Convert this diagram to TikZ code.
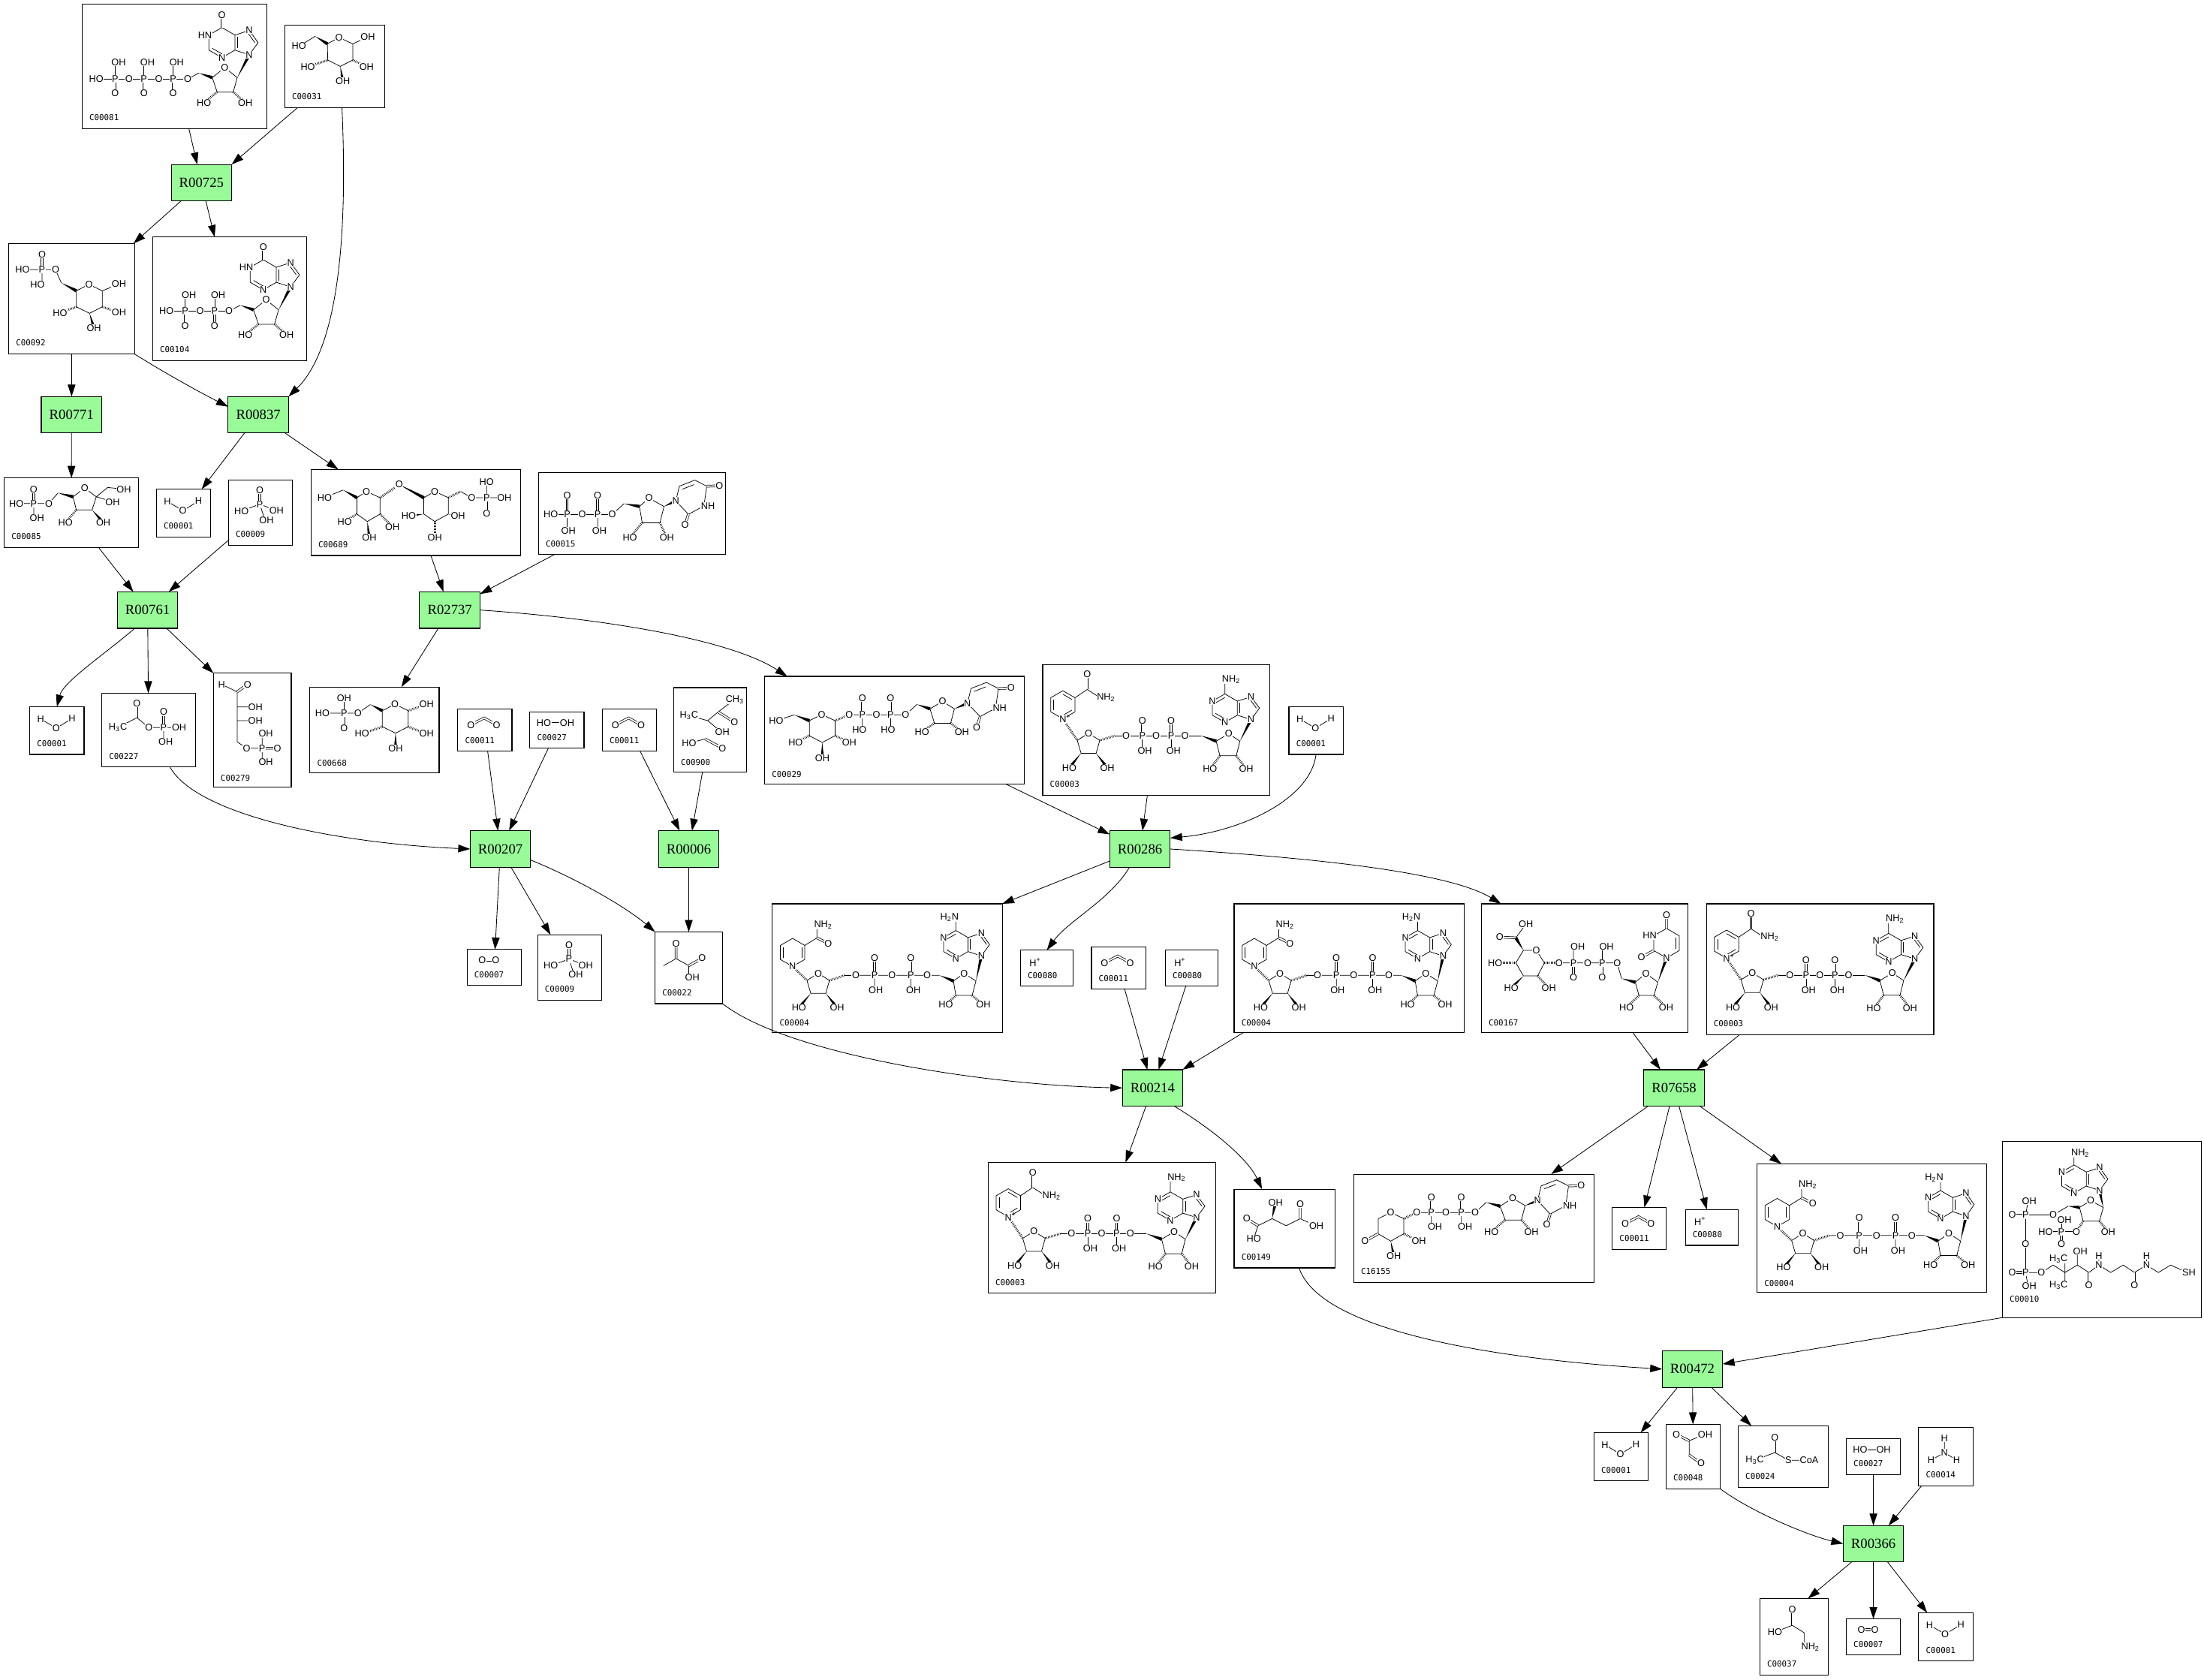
\documentclass[tikz,border=0pt]{standalone}
\usepackage{fontspec}
\usetikzlibrary{arrows.meta,calc}
\newfontfamily\atf{Liberation Sans}
\newfontfamily\idf{DejaVu Sans Mono}
\newfontfamily\rxf{Liberation Serif}
\definecolor{rxgreen}{HTML}{98FB98}
\tikzset{
 cpd/.style={draw,line width=0.6pt,fill=white,inner sep=0pt,outer sep=0pt},
 rxn/.style={draw,line width=0.6pt,fill=rxgreen,inner sep=0pt,outer sep=0pt,minimum width=43pt,minimum height=26pt,font={\rxf\fontsize{10}{10}\selectfont}},
 idl/.style={font={\idf\fontsize{5.8}{6}\selectfont},inner sep=0pt},
 atm/.style={font={\atf\fontsize{6.8}{7}\selectfont},inner sep=0.3pt,fill=white},
 bd/.style={line width=0.4pt},
 dbd/.style={line width=0.4pt,double,double distance=1pt},
 hsh/.style={line width=1.6pt,dash pattern=on 0.35pt off 0.75pt},
 arr/.style={line width=0.45pt,-{Triangle[length=8.5pt,width=5.5pt]}},
}
\newcommand\At[3]{\node[atm] at (#1,#2) {#3};}
\newcommand\Aw[3]{\node[atm,anchor=west] at (#1,#2) {#3};}
\newcommand\Ae[3]{\node[atm,anchor=east] at (#1,#2) {#3};}
\newcommand\Wg[4]{\fill (#1,#2) -- ($(#3,#4)!1.2pt!90:(#1,#2)$) -- ($(#3,#4)!1.2pt!-90:(#1,#2)$) -- cycle;}
\newcommand\Hs[4]{\draw[hsh] (#1,#2) -- (#3,#4);}
\newcommand\Ib[6]{\draw[bd] ($(#1,#2)!0.25!(#5,#6)$) -- ($(#3,#4)!0.25!(#5,#6)$);}
\newcommand\cpd[7]{%
 \pgfmathsetmacro\cpdw{#4-#2}\pgfmathsetmacro\cpdh{#5-#3}%
 \pgfmathsetmacro\cpdx{(#2+#4)/2}\pgfmathsetmacro\cpdy{(#3+#5)/2}%
 \node[cpd,minimum width={\cpdw*1pt},minimum height={\cpdh*1pt}] (#1) at (\cpdx,\cpdy) {};%
 \node[idl,anchor=west] at ({#2+5},{#5-#7}) {#6};}
\newcommand\mol[3]{\begin{scope}[shift={(#1,#2)}]#3\end{scope}}
% ---------- small molecules
\newcommand\molWater{\draw[bd] (7.8,8.7)--(18.8,15.3)--(30,8.4);\At{7.8}{8.7}{H}\At{18.8}{15.3}{O}\At{30}{8.4}{H}}
\newcommand\molPi{\draw[dbd] (22.3,7.5)--(22.3,17.3);\draw[bd] (9.3,22.1)--(22.3,17.3)--(34.2,21.8) (22.3,17.3)--(26,28.5);\At{22.3}{7.5}{O}\At{22.3}{17.3}{P}\At{9.3}{22.1}{HO}\At{34.2}{21.8}{OH}\At{27.1}{28.5}{OH}}
\newcommand\molCO{\draw[dbd] (9.3,11.5)--(18.7,6.6)--(27.6,11.5);\At{9.3}{11.5}{O}\At{27.6}{11.5}{O}}
\newcommand\molH{\At{10.5}{8.5}{H\textsuperscript{+}}}
\newcommand\molOO{\draw[dbd] (10.7,7.7)--(20.4,7.7);\At{10.7}{7.7}{O}\At{20.4}{7.7}{O}}
\newcommand\molHOOH{\draw[bd] (9.9,7.7)--(26.5,7.7);\At{9.9}{7.7}{HO}\At{26.5}{7.7}{OH}}
\newcommand\molNH{\draw[bd] (18.3,7.8)--(18.3,17.9) (8.9,23.3)--(18.3,17.9)--(27,23.3);\At{18.3}{7.8}{H}\At{18.3}{17.9}{N}\At{8.9}{23.3}{H}\At{27}{23.3}{H}}
\newcommand\molGly{\draw[dbd] (23.1,7.9)--(23.1,19.1);\draw[bd] (10.7,23.9)--(23.1,19.1)--(31.7,24.5)--(31.7,33);\At{23.1}{7.9}{O}\At{10.7}{23.9}{HO}\Aw{29}{34.6}{NH\textsubscript{2}}}
\newcommand\molGlyox{\draw[dbd] (16.4,11.7)--(7.3,7.1) (16.4,21.9)--(24.9,27.7);\draw[bd] (27.8,7.1)--(16.4,11.7)--(16.4,21.9);\At{7.3}{7.1}{O}\At{27.8}{7.1}{OH}\At{24.9}{27.7}{O}}
\newcommand\molAcCoA{\draw[dbd] (26.1,8.4)--(26.1,19);\draw[bd] (11.8,24.4)--(26.1,19)--(35.7,24.4)--(45,24.4);\At{26.1}{8.4}{O}\At{11.8}{24.4}{H\textsubscript{3}C}\At{35.7}{24.4}{S}\At{50.5}{24.4}{CoA}}
\newcommand\molPyr{\draw[bd] (6,24)--(15,19)--(24,24)--(24,31.5);\draw[dbd] (15,19)--(15,9) (24,24)--(33,19);\At{15}{8.5}{O}\At{33.5}{18.5}{O}\At{26.5}{32.5}{OH}}
\newcommand\molMal{\draw[bd] (17,26)--(27,21)--(37,26)--(47,21)--(58,26) (17,26)--(14,35);\draw[dbd] (17,26)--(9,21) (47,21)--(47,11);\Wg{27}{21}{29}{11}\At{9}{21}{O}\At{14}{35.5}{HO}\At{29.5}{9.5}{OH}\At{47}{10.5}{O}\At{58.5}{26}{OH}}
\newcommand\molAcP{\draw[dbd] (25,7.2)--(25,17.5) (44,13.5)--(44,24.5);\draw[bd] (11.5,24.5)--(25,17.5)--(33.5,24.5)--(55,24.5) (44,24.5)--(44,33);\At{25}{7.2}{O}\At{11.5}{24.5}{H\textsubscript{3}C}\At{33.5}{24.5}{O}\At{44}{24.5}{P}\At{44}{13.5}{O}\At{55}{24.5}{OH}\At{45.5}{34.7}{OH}}
\newcommand\molEfP{\draw[bd] (5.9,8)--(16.9,13.3)--(16.9,48.9)--(23.7,53.4)--(34.7,53.4) (16.9,24)--(25,24) (16.9,33.8)--(25,33.8) (34.7,53.4)--(34.7,44.5) (34.7,53.4)--(34.7,62);\draw[dbd] (16.9,13.3)--(24.3,8) (34.7,53.4)--(45.6,53.4);\At{5.9}{8}{H}\At{24.3}{8}{O}\Aw{24.3}{24}{OH}\Aw{24.3}{33.8}{OH}\At{23.7}{53.4}{O}\At{34.7}{53.4}{P}\At{37.3}{43.1}{OH}\At{45.6}{53.4}{O}\At{37.3}{63.2}{OH}}
\newcommand\molAcl{\draw[bd] (11,19.9)--(24.3,23.5)--(31.7,17.3)--(40,11) (24.3,23.5)--(32,30) (11,39.5)--(22.5,36.5);\draw[dbd] (31.7,17.3)--(43.3,24.6) (22.5,36.5)--(34.7,43.1);\At{11}{19.9}{H\textsubscript{3}C}\At{43.6}{8.4}{CH\textsubscript{3}}\At{43.3}{24.6}{O}\At{34.7}{31.5}{OH}\At{11}{39.5}{HO}\At{34.7}{43.1}{O}}
% ---------- sugars
\newcommand\molGlc{\draw[bd] (10.1,15.1)--(21.7,8) (30.3,13.4)--(38.6,8.9)--(48.4,13.4)--(48.4,24.9)--(39.5,29.4)--(30.6,24.9)--cycle (48.4,13.4)--(59.1,8.5);\Wg{21.7}{8}{30.3}{13.4}\Hs{48.4}{24.9}{58.2}{29.9}\Wg{39.5}{29.4}{41.3}{40.1}\Hs{30.6}{24.9}{16.4}{29.9}\At{10.1}{15.1}{HO}\At{38.6}{8.9}{O}\At{59.1}{8.5}{OH}\At{58.2}{29.9}{OH}\At{41.3}{40.1}{OH}\At{16.4}{29.9}{HO}}
\newcommand\molGsP{\draw[dbd] (23.7,8)--(23.7,18.7);\draw[bd] (9.8,18.7)--(33.3,18.7)--(37.4,28) (23.7,18.7)--(23.7,27);\Wg{37.4}{28}{48.1}{33.7}\draw[bd] (48.1,33.7)--(57.1,29.1)--(66.5,33.7)--(66.5,45.1)--(57.5,49.7)--(48.1,45.1)--cycle (66.5,33.7)--(78.4,28.9);\Hs{66.5}{45.1}{78.4}{49}\Wg{57.5}{49.7}{60.6}{60}\Hs{48.1}{45.1}{36.5}{49.3}\At{23.7}{8}{O}\At{9.8}{18.7}{HO}\At{23.7}{18.7}{P}\At{33.3}{18.7}{O}\At{20.5}{29.4}{HO}\At{57.1}{29.1}{O}\At{78.4}{28.9}{OH}\At{78.4}{49}{OH}\At{60.6}{60}{OH}\At{36.5}{49.3}{HO}}
\newcommand\molFsP{\draw[dbd] (21,8)--(21,18.2);\draw[bd] (8.6,18.2)--(31.7,18.2)--(38.3,10.7) (21,18.2)--(21,26);\Wg{38.3}{10.7}{49}{13.4}\draw[bd] (49,13.4)--(57.2,7.2)--(65.5,13.4)--(62.5,22.8)--(51.3,22.8)--cycle (65.5,13.4)--(73.6,6.8)--(85.1,8) (65.5,13.4)--(77.1,16.9);\Hs{51.3}{22.8}{43.6}{31.7}\Wg{62.5}{22.8}{70.5}{31.7}\At{21}{8}{O}\At{8.6}{18.2}{HO}\At{21}{18.2}{P}\At{31.7}{18.2}{O}\At{23.3}{28.5}{OH}\At{57.2}{7.2}{O}\At{85.1}{8}{OH}\At{77.1}{17.4}{OH}\At{43.6}{31.7}{HO}\At{70.5}{31.7}{OH}}
\newcommand\molGsPa{\draw[dbd] (24.3,18.7)--(24.3,29.4);\draw[bd] (8.9,18.7)--(34.1,18.7)--(43,12.5) (24.3,18.7)--(24.3,10);\Wg{43}{12.5}{51.5}{16.9}\draw[bd] (51.5,16.9)--(60.5,12.3)--(69.9,16.9)--(69.9,28.3)--(60.9,32.9)--(51.5,28.3)--cycle;\Hs{69.9}{16.9}{83}{12.5}\Hs{69.9}{28.3}{83}{33.3}\Wg{60.9}{32.9}{60.9}{43.6}\Hs{51.5}{28.3}{37}{33.3}\At{24.3}{8}{OH}\At{8.9}{18.7}{HO}\At{24.3}{18.7}{P}\At{34.1}{18.7}{O}\At{24.3}{29.4}{O}\At{60.5}{12.3}{O}\At{83}{12.5}{OH}\At{83}{33.3}{OH}\At{60.9}{43.6}{OH}\At{37}{33.3}{HO}}
\newcommand\molTreP{\draw[bd] (9.7,19.9)--(22.9,14.6);\Wg{22.9}{14.6}{32.6}{20.1}\draw[bd] (32.6,20.1)--(39.4,15.6)--(49.1,20.1)--(49.1,31.7)--(40,37)--(32.6,31.7)--cycle;\Hs{32.6}{31.7}{23.9}{37}\Wg{40}{37}{41.4}{48.6}\Hs{49.1}{31.7}{57.9}{40.8}\Hs{49.1}{20.1}{62.7}{10.7}\Wg{62.7}{10.7}{80.2}{20.1}\draw[bd] (80.2,20.1)--(88,15.6)--(97.7,20.1)--(97.7,31.7)--(88,37)--(80.2,31.7)--cycle;\Wg{80.2}{31.7}{69.5}{33}\Hs{88}{37}{88}{48.6}\Wg{97.7}{31.7}{104.5}{33}\Hs{97.7}{20.1}{106.4}{15.6}\draw[bd] (106.4,15.6)--(114.2,20.1)--(137.5,20.1) (124.9,20.1)--(124.9,9.5);\draw[dbd] (124.9,20.1)--(124.9,31.1);\At{9.7}{19.9}{HO}\At{39.4}{15.6}{O}\At{23.9}{37}{HO}\At{41.4}{48.6}{OH}\At{57.9}{40.8}{OH}\At{62.7}{10.7}{O}\At{88}{15.6}{O}\At{69.5}{33}{HO}\At{88}{48.6}{OH}\At{104.5}{33}{OH}\At{114.2}{20.1}{O}\At{124.9}{20.1}{P}\At{124.9}{8.8}{HO}\At{124.9}{31.1}{O}\At{137.5}{20.1}{OH}}
% ---------- nucleotide pieces
\newcommand\ura[2]{\begin{scope}[shift={(#1,#2)}]\draw[bd] (0,0)--(2.5,-10.5)--(13.5,-14.8)--(22,-10.5)--(20,3.5)--(9,9.5)--cycle;\Ib{2.5}{-10.5}{13.5}{-14.8}{11.2}{-2.1}\draw[dbd] (22,-10.5)--(31,-10.8) (9,9.5)--(6.5,17);\At{0}{0}{N}\Aw{17.5}{3.5}{NH}\At{31}{-10.8}{O}\At{6.5}{17}{O}\end{scope}}
\newcommand\ino{\draw[bd] (0,0)--(8,-4.1);\Wg{8}{-4.1}{17.5}{-0.9}\draw[bd] (17.5,-0.9)--(26.4,-8)--(35.3,-0.9)--(32.4,9.4)--(21,9.4)--cycle;\Hs{21}{9.4}{11.6}{16.9}\Hs{32.4}{9.4}{41}{16.9}\Wg{35.3}{-0.9}{43.85}{-17.14}\draw[bd] (24.4,-36.5)--(33.67,-31.15)--(33.67,-20.45)--(24.4,-15.1)--(15.13,-20.45)--(15.13,-31.15)--cycle (33.67,-31.15)--(43.85,-34.46)--(50.14,-25.8)--(43.85,-17.14)--(33.67,-20.45);\draw[dbd] (24.4,-36.5)--(24.4,-45.4);\Ib{15.13}{-20.45}{24.4}{-15.1}{24.4}{-25.8}\Ib{33.67}{-31.15}{33.67}{-20.45}{41}{-25.8}\Ib{43.85}{-34.46}{50.14}{-25.8}{41}{-25.8}\At{0}{0}{O}\At{26.4}{-8}{O}\At{11.6}{16.9}{HO}\At{41}{16.9}{OH}\Ae{17.7}{-31.15}{HN}\At{24.4}{-15.1}{N}\At{43.85}{-34.46}{N}\At{43.85}{-17.14}{N}\At{24.4}{-45.4}{O}}
\newcommand\molITP{\draw[bd] (10.1,53.4)--(75.1,53.4) (23.5,53.4)--(23.5,43) (44,53.4)--(44,43) (64.8,53.4)--(64.8,43);\draw[dbd] (23.5,53.4)--(23.5,63.5) (44,53.4)--(44,63.5) (64.8,53.4)--(64.8,63.5);\begin{scope}[shift={(75.1,53.4)}]\ino\end{scope}\At{10.1}{53.4}{HO}\At{23.5}{53.4}{P}\At{26}{41.5}{OH}\At{23.5}{63.5}{O}\At{33.3}{53.4}{O}\At{44}{53.4}{P}\At{46.5}{41.5}{OH}\At{44}{63.5}{O}\At{54.6}{53.4}{O}\At{64.8}{53.4}{P}\At{67.3}{41.5}{OH}\At{64.8}{63.5}{O}}
\newcommand\molIDP{\draw[bd] (9.8,52.7)--(54.3,52.7) (23.1,52.7)--(23.1,43) (44.1,52.7)--(44.1,43);\draw[dbd] (23.1,52.7)--(23.1,63.2) (44.1,52.7)--(44.1,63.2);\begin{scope}[shift={(54.3,52.7)}]\ino\end{scope}\At{9.8}{52.7}{HO}\At{23.1}{52.7}{P}\At{25.8}{41.1}{OH}\At{23.1}{63.2}{O}\At{33.8}{52.7}{O}\At{44.1}{52.7}{P}\At{46.6}{41.1}{OH}\At{44.1}{63.2}{O}}
\newcommand\molUDP{\draw[dbd] (20.4,16.5)--(20.4,30.1) (42.1,16.5)--(42.1,30.1);\draw[bd] (8.7,30.1)--(52.4,30.1)--(60.8,22.3) (20.4,30.1)--(20.4,39) (42.1,30.1)--(42.1,39);\Wg{60.8}{22.3}{71.8}{24.3}\draw[bd] (71.8,24.3)--(78.6,18.4)--(89.3,24.3)--(86.4,35.9)--(73.8,35.9)--cycle;\Hs{73.8}{35.9}{65}{46.6}\Hs{86.4}{35.9}{91.3}{46.6}\Wg{89.3}{24.3}{97.7}{20.4}\ura{97.7}{20.4}\At{8.7}{30.1}{HO}\At{20.4}{30.1}{P}\At{20.4}{16.5}{O}\At{21.3}{41.7}{OH}\At{31.1}{30.1}{O}\At{42.1}{30.1}{P}\At{42.1}{16.5}{O}\At{43.3}{41.7}{OH}\At{52.4}{30.1}{O}\At{78.6}{18.4}{O}\At{65}{46.6}{HO}\At{91.3}{46.6}{OH}}
\newcommand\molUDPG{\draw[bd] (8.2,31.5)--(21.1,27.4);\Wg{21.1}{27.4}{31.8}{31.5}\draw[bd] (31.8,31.5)--(40.6,27.1)--(50.1,31.5)--(50.1,42.2)--(41,47)--(31.8,42.2)--cycle;\Hs{31.8}{42.2}{22}{47}\Wg{41}{47}{41}{58.2}\Hs{50.1}{42.2}{60.2}{47}\Hs{50.1}{31.5}{60.2}{27.4}\draw[bd] (60.2,27.4)--(100.3,27.4)--(108.3,19.9) (69.5,27.4)--(69.5,36) (89.6,27.4)--(89.6,36);\draw[dbd] (69.5,15.5)--(69.5,27.4) (89.6,15.5)--(89.6,27.4);\Wg{108.3}{19.9}{117.6}{23.1}\draw[bd] (117.6,23.1)--(126.5,17.8)--(135,23.1)--(132.3,33.3)--(120.8,33.3)--cycle;\Hs{120.8}{33.3}{111.9}{39.5}\Hs{132.3}{33.3}{140.3}{39.5}\Wg{135}{23.1}{144.3}{19.1}\ura{144.3}{19.1}\At{8.2}{31.5}{HO}\At{40.6}{27.1}{O}\At{22}{47}{HO}\At{41}{58.2}{OH}\At{60.2}{47}{OH}\At{60.2}{27.4}{O}\At{69.5}{27.4}{P}\At{69.5}{15.5}{O}\At{67.4}{38.1}{HO}\At{79.5}{27.4}{O}\At{89.6}{27.4}{P}\At{89.6}{15.5}{O}\At{87.8}{38.1}{HO}\At{100.3}{27.4}{O}\At{126.5}{17.8}{O}\At{111.9}{39.5}{HO}\At{140.3}{39.5}{OH}}
\newcommand\molUDPGA{\Wg{29.9}{33.1}{24.5}{24.2}\draw[dbd] (24.5,24.2)--(13,23.7);\draw[bd] (24.5,24.2)--(31.7,14.3);\draw[bd] (29.9,33.1)--(39.1,33.1)--(44.8,42)--(40,51.3)--(29.9,51.3)--(24.5,42)--cycle;\Hs{24.5}{42}{9.8}{42}\Wg{29.9}{51.3}{21.3}{59.9}\Hs{40}{51.3}{48}{59.9}\Hs{44.8}{42}{55.2}{42}\draw[bd] (55.2,42)--(96.6,42)--(99.7,53.1) (65.5,42)--(65.5,32) (86,42)--(86,32);\draw[dbd] (65.5,42)--(65.5,52.2) (86,42)--(86,52.2);\Wg{99.7}{53.1}{109.5}{55.8}\draw[bd] (109.5,55.8)--(117.1,49.5)--(125.5,55.8)--(122.8,65.2)--(112.1,65.2)--cycle;\Hs{112.1}{65.2}{103.2}{73.6}\Hs{122.8}{65.2}{131.4}{73.6}\Wg{125.5}{55.8}{131.7}{38.5}\draw[bd] (131.7,17.5)--(140.8,22.75)--(140.8,33.25)--(131.7,38.5)--(122.6,33.25)--(122.6,22.75)--cycle;\Ib{140.8}{22.75}{140.8}{33.25}{131.7}{28}\draw[dbd] (131.7,17.5)--(131.7,8.2) (122.6,33.25)--(113.9,38);\At{13}{23.7}{O}\At{31.7}{14.3}{OH}\At{39.1}{33.1}{O}\At{9.8}{42}{HO}\At{21.3}{59.9}{HO}\At{48}{59.9}{OH}\At{55.2}{42}{O}\At{65.5}{42}{P}\At{68.5}{30.5}{OH}\At{65.5}{52.2}{O}\At{75.6}{42}{O}\At{86}{42}{P}\At{89}{30.5}{OH}\At{86}{52.2}{O}\At{96.6}{42}{O}\At{117.1}{49.5}{O}\At{103.2}{73.6}{HO}\At{131.4}{73.6}{OH}\At{131.7}{38.5}{N}\Ae{125.1}{22.75}{HN}\At{131.7}{8.2}{O}\At{113.9}{38}{O}}
\newcommand\molKeto{\draw[bd] (17.4,31.7)--(26.3,27.3)--(35.6,31.7)--(35.6,42.4)--(26.3,47.7)--(17.4,42.4)--cycle;\draw[dbd] (17.4,42.4)--(8,47.7);\Wg{26.3}{47.7}{28.5}{58.4}\Hs{35.6}{42.4}{46.3}{47.7}\Hs{35.6}{31.7}{44.8}{27.3}\draw[bd] (44.8,27.3)--(86.3,27.3)--(94.3,20.1) (55.2,27.3)--(55.2,35.5) (76.5,27.3)--(76.5,35.5);\draw[dbd] (55.2,27.3)--(55.2,16.6) (76.5,27.3)--(76.5,16.6);\Wg{94.3}{20.1}{104.1}{22.8}\draw[bd] (104.1,22.8)--(113,17.1)--(121.9,22.4)--(119.3,32.6)--(107.7,32.6)--cycle;\Hs{107.7}{32.6}{97.9}{41}\Hs{119.3}{32.6}{126.4}{41}\Wg{121.9}{22.4}{130.8}{18.9}\ura{130.8}{18.9}\At{26.3}{27.3}{O}\At{8}{47.7}{O}\At{28.5}{58.4}{OH}\At{46.3}{47.7}{OH}\At{44.8}{27.3}{O}\At{55.2}{27.3}{P}\At{55.2}{16.6}{O}\At{57.8}{37.4}{OH}\At{65.5}{27.3}{O}\At{76.5}{27.3}{P}\At{76.5}{16.6}{O}\At{79.2}{37.4}{OH}\At{86.3}{27.3}{O}\At{113}{17.1}{O}\At{97.9}{41}{HO}\At{126.4}{41}{OH}}
\newcommand\molNAD{\draw[bd] (14.35,18.7)--(23,23.7)--(23,33.7)--(14.35,38.7)--(5.7,33.7)--(5.7,23.7)--cycle;\Ib{5.7}{33.7}{5.7}{23.7}{14.35}{28.7}\Ib{14.35}{18.7}{23}{23.7}{14.35}{28.7}\Ib{23}{33.7}{14.35}{38.7}{14.35}{28.7}\draw[bd] (23,23.7)--(31.7,17.8)--(40.6,23.6);\draw[dbd] (31.7,17.8)--(31.7,7.1);\Hs{14.35}{38.7}{24.6}{54}\draw[bd] (24.6,54)--(32.6,49)--(40.6,54)--(38,63.2)--(27.3,63.2)--cycle;\Wg{27.3}{63.2}{18.9}{73.5}\Wg{38}{63.2}{46}{73.5}\Hs{40.6}{54}{51.3}{50.7}\draw[bd] (51.3,50.7)--(112.7,50.7) (70.9,50.7)--(70.9,60) (91.4,50.7)--(91.4,60);\draw[dbd] (70.9,50.7)--(70.9,40) (91.4,50.7)--(91.4,40);\Wg{112.7}{50.7}{123.4}{54.6}\draw[bd] (123.4,54.6)--(132.3,49.3)--(140.3,54.6)--(137.7,65)--(126.1,65)--cycle;\Hs{126.1}{65}{119}{74.2}\Hs{137.7}{65}{144.8}{74.2}\Wg{140.3}{54.6}{148.2}{39.2}\draw[bd] (129.6,21)--(138.5,26.1)--(138.5,36.1)--(129.6,41.2)--(120.7,36.1)--(120.7,26.1)--cycle (138.5,26.1)--(148.2,23)--(154.2,31.1)--(148.2,39.2)--(138.5,36.1) (129.6,21)--(129.6,12);\Ib{120.7}{26.1}{129.6}{21}{129.6}{31.1}\Ib{120.7}{36.1}{129.6}{41.2}{129.6}{31.1}\Ib{138.5}{26.1}{138.5}{36.1}{145.5}{31.1}\Ib{148.2}{23}{154.2}{31.1}{145.5}{31.1}\At{14.35}{38.7}{N\rlap{\textsuperscript{+}}}\At{31.7}{7.1}{O}\Aw{38.1}{23.6}{NH\textsubscript{2}}\At{32.6}{49}{O}\At{18.9}{73.5}{HO}\At{46}{73.5}{OH}\At{59.3}{50.7}{O}\At{70.9}{50.7}{P}\At{70.9}{40}{O}\At{72.7}{61.4}{OH}\At{80.7}{50.7}{O}\At{91.4}{50.7}{P}\At{91.4}{40}{O}\At{93.1}{61.4}{OH}\At{101.2}{50.7}{O}\At{132.3}{49.3}{O}\At{119}{74.2}{HO}\At{144.8}{74.2}{OH}\At{120.7}{26.1}{N}\At{129.6}{41.2}{N}\At{148.2}{23}{N}\At{148.2}{39.2}{N}\Aw{127.1}{10.7}{NH\textsubscript{2}}}
\newcommand\molNADH{\draw[bd] (14.35,24.6)--(23,29.6)--(23,39.6)--(14.35,44.6)--(5.7,39.6)--(5.7,29.6)--cycle;\Ib{23}{29.6}{23}{39.6}{14.35}{34.6}\Ib{5.7}{39.6}{5.7}{29.6}{14.35}{34.6}\draw[bd] (23,29.6)--(31.7,24.2)--(31.7,16.5);\draw[dbd] (31.7,24.2)--(39.7,28.2);\Hs{14.35}{44.6}{24.6}{54.5}\draw[bd] (24.6,54.5)--(32.6,49.5)--(40.6,54.5)--(38,63.7)--(27.3,63.7)--cycle;\Wg{27.3}{63.7}{18.9}{73.8}\Wg{38}{63.7}{46}{73.8}\Hs{40.6}{54.5}{51.3}{51}\draw[bd] (51.3,51)--(59.3,50.9)--(119,50.9) (72.7,50.9)--(72.7,60) (98.5,50.9)--(98.5,60);\draw[dbd] (72.7,50.9)--(72.7,38.5) (98.5,50.9)--(98.5,38.5);\Wg{119}{50.9}{128.8}{54.9}\draw[bd] (128.8,54.9)--(136.4,49.5)--(144.8,54.9)--(142.1,65.2)--(130.5,65.2)--cycle;\Hs{130.5}{65.2}{123.4}{71.8}\Hs{142.1}{65.2}{150.1}{71.8}\Wg{144.8}{54.9}{148.7}{37.1}\draw[bd] (130.5,19)--(139.2,24)--(139.2,34)--(130.5,39)--(121.8,34)--(121.8,24)--cycle (139.2,24)--(148.7,20.9)--(154.5,29)--(148.7,37.1)--(139.2,34) (130.5,19)--(130.5,11);\Ib{121.8}{24}{130.5}{19}{130.5}{29}\Ib{121.8}{34}{130.5}{39}{130.5}{29}\Ib{139.2}{24}{139.2}{34}{146.1}{29}\Ib{148.7}{20.9}{154.5}{29}{146.1}{29}\At{14.35}{44.6}{N}\Aw{29.2}{15}{NH\textsubscript{2}}\At{39.7}{28.2}{O}\At{32.6}{49.5}{O}\At{18.9}{73.8}{HO}\At{46}{73.8}{OH}\At{59.3}{50.9}{O}\At{72.7}{50.9}{P}\At{72.7}{38.5}{O}\At{73.6}{61.6}{OH}\At{85.1}{50.9}{O}\At{98.5}{50.9}{P}\At{98.5}{38.5}{O}\At{100.3}{61.6}{OH}\At{110.1}{50.9}{O}\At{136.4}{49.5}{O}\At{123.4}{71.8}{HO}\At{150.1}{71.8}{OH}\At{121.8}{24}{N}\At{130.5}{39}{N}\At{148.7}{20.9}{N}\At{148.7}{37.1}{N}\Ae{133}{9.8}{H\textsubscript{2}N}}
\newcommand\molCoA{\draw[bd] (51,17)--(59.7,22)--(59.7,32)--(51,37)--(42.3,32)--(42.3,22)--cycle (59.7,22)--(69.2,18.9)--(75.1,27)--(69.2,35.1)--(59.7,32) (51,17)--(51,9.5);\Ib{42.3}{22}{51}{17}{51}{27}\Ib{42.3}{32}{51}{37}{51}{27}\Ib{59.7}{22}{59.7}{32}{66.6}{27}\Ib{69.2}{18.9}{75.1}{27}{66.6}{27}\Wg{71.8}{47.2}{69.2}{35.1}\draw[bd] (54.9,47.2)--(62.9,42.4)--(71.8,47.2)--(69.1,57)--(57.5,57)--cycle;\Hs{69.1}{57}{75.3}{64.5}\Hs{57.5}{57}{52.7}{64.5}\draw[bd] (52.7,64.5)--(30.8,64.5) (42,64.5)--(42,57.5);\draw[dbd] (42,64.5)--(42,73);\Wg{46.8}{46.3}{54.9}{47.2}\draw[bd] (46.8,46.3)--(36.2,52.6)--(16.6,52.6)--(16.6,93.5)--(27.8,93.5)--(36.2,88.2)--(44.5,93.5)--(53.4,88.2)--(61.6,93.5)--(68.7,88.2)--(77.1,93.5)--(86,88.2)--(94,93.5)--(102.6,88.2)--(111,93.5)--(119.8,88.2)--(131.4,93.5) (16.6,52.6)--(18,44.5) (16.6,93.5)--(18,101.5) (44.5,93.5)--(44.5,86) (44.5,93.5)--(44.5,100.5) (53.4,88.2)--(53.4,80) (68.7,88.2)--(68.7,82) (102.6,88.2)--(102.6,82);\draw[dbd] (16.6,52.6)--(7.1,52.6) (16.6,93.5)--(7.1,93.5) (61.6,93.5)--(61.6,102.4) (94,93.5)--(94,102.4);\Aw{48.5}{8.7}{NH\textsubscript{2}}\At{42.3}{22}{N}\At{51}{37}{N}\At{69.2}{18.9}{N}\At{69.2}{35.1}{N}\At{62.9}{42.4}{O}\At{75.3}{64.5}{OH}\At{52.7}{64.5}{O}\At{42}{64.5}{P}\At{30.8}{64.5}{HO}\At{44.2}{56.1}{OH}\At{42}{73}{O}\At{36.2}{52.6}{O}\At{16.6}{52.6}{P}\At{7.1}{52.6}{O}\At{19.2}{42.8}{OH}\At{16.6}{73}{O}\At{16.6}{93.5}{P}\At{7.1}{93.5}{O}\At{19.2}{103.3}{OH}\At{27.8}{93.5}{O}\Ae{47}{84}{H\textsubscript{3}C}\Ae{47}{102.4}{H\textsubscript{3}C}\At{55.5}{78.4}{OH}\At{61.6}{102.4}{O}\At{68.7}{88.2}{N}\At{68.7}{81.5}{H}\At{94}{102.4}{O}\At{102.6}{88.2}{N}\At{102.6}{81.5}{H}\Aw{127.5}{93.5}{SH}}
\begin{document}
\begin{tikzpicture}[x=1pt,y=-1pt]
\fill[white] (0,0) rectangle (1568,1195);
\useasboundingbox (0,0) rectangle (1568,1195);
% ---------- compound boxes
\cpd{c00081}{58.4}{2.7}{189.9}{91.7}{C00081}{8}
\cpd{c00031}{202.6}{17.8}{273.6}{76.6}{C00031}{7.7}
\cpd{c00092}{6.2}{173.2}{95.8}{251.9}{C00092}{8}
\cpd{c00104}{108.6}{168.6}{218.1}{256.4}{C00104}{8}
\cpd{c00001a}{111.3}{348}{149.9}{381.9}{C00001}{7.6}
\cpd{c00009a}{162.5}{341.4}{207.9}{388.1}{C00009}{8}
\cpd{c00085}{3}{340}{98.5}{389.5}{C00085}{7.8}
\cpd{c00689}{221.3}{334}{370.5}{395.2}{C00689}{7.5}
\cpd{c00015}{383.1}{336}{516.1}{394.3}{C00015}{7.5}
\cpd{c00001b}{21.2}{502.8}{59.8}{536.7}{C00001}{7.6}
\cpd{c00227}{72.4}{493.1}{139.1}{545.7}{C00227}{7.5}
\cpd{c00279}{151.8}{478.9}{207.2}{559.8}{C00279}{6.5}
\cpd{c00668}{220.5}{488.7}{312.4}{549.7}{C00668}{6.7}
\cpd{c00011a}{325.7}{504.2}{364.2}{534.1}{C00011}{7.5}
\cpd{c00027a}{377}{506.5}{415.5}{532.3}{C00027}{7.5}
\cpd{c00011b}{428.5}{504.2}{467.1}{534.1}{C00011}{7.5}
\cpd{c00900}{479.2}{489.2}{531}{549.2}{C00900}{7.1}
\cpd{c00029}{544}{481.2}{728.8}{557.8}{C00029}{6.8}
\cpd{c00003a}{741.8}{472.7}{903.5}{565.8}{C00003}{7.7}
\cpd{c00001c}{917}{502.8}{955.6}{536.7}{C00001}{7.6}
\cpd{c00007a}{332.3}{675.5}{370.8}{700.8}{C00007}{7.5}
\cpd{c00009b}{382.5}{665}{428}{711.7}{C00009}{8}
\cpd{c00022}{466}{663}{514}{714}{C00022}{7.7}
\cpd{c00004a}{549.5}{643}{713}{734.4}{C00004}{6.6}
\cpd{c00080a}{726}{676}{763.5}{701.5}{C00080}{7.5}
\cpd{c00011c}{776.5}{673.5}{815}{703.4}{C00011}{7.5}
\cpd{c00080b}{829}{676}{866.5}{701.5}{C00080}{7.5}
\cpd{c00004b}{878}{643}{1041.5}{734.4}{C00004}{6.6}
\cpd{c00167}{1053.9}{643}{1200.8}{734.4}{C00167}{6.6}
\cpd{c00003b}{1214}{643}{1375.7}{736.1}{C00003}{7.7}
\cpd{c00003c}{703}{827}{864.7}{920.1}{C00003}{7.7}
\cpd{c00149}{878}{846}{950}{902}{C00149}{7.7}
\cpd{c16155}{963.1}{835.3}{1134}{912.4}{C16155}{8}
\cpd{c00011d}{1147}{859}{1185.3}{888.7}{C00011}{7.5}
\cpd{c00080c}{1199}{860.5}{1236.5}{886}{C00080}{7.5}
\cpd{c00004c}{1250}{828}{1413.5}{919.4}{C00004}{6.6}
\cpd{c00010}{1424.5}{811.8}{1566.2}{937.4}{C00010}{13.3}
\cpd{c00001d}{1134}{1019.2}{1172.7}{1053.4}{C00001}{7.6}
\cpd{c00048}{1185.3}{1013.3}{1224}{1059.3}{C00048}{8.1}
\cpd{c00024}{1236.6}{1014.4}{1300.8}{1058}{C00024}{7.7}
\cpd{c00027b}{1313.5}{1023.6}{1352}{1049.1}{C00027}{7.7}
\cpd{c00014}{1365}{1015.5}{1403.6}{1057.1}{C00014}{8.2}
\cpd{c00037}{1252}{1137.2}{1300.8}{1191.5}{C00037}{8}
\cpd{c00007b}{1313.5}{1151.8}{1352}{1177.1}{C00007}{7.5}
\cpd{c00001e}{1365}{1147.4}{1403.6}{1181.5}{C00001}{7.6}
% ---------- structures
\mol{58.4}{2.7}{\molITP}
\mol{202.6}{17.8}{\molGlc}
\mol{6.2}{173.2}{\molGsP}
\mol{108.6}{168.6}{\molIDP}
\mol{111.3}{348}{\molWater}
\mol{162.5}{341.4}{\molPi}
\mol{3}{340}{\molFsP}
\mol{221.3}{334}{\molTreP}
\mol{383.1}{336}{\molUDP}
\mol{21.2}{502.8}{\molWater}
\mol{72.4}{493.1}{\molAcP}
\mol{151.8}{478.9}{\molEfP}
\mol{220.5}{488.7}{\molGsPa}
\mol{325.7}{504.2}{\molCO}
\mol{377}{506.5}{\molHOOH}
\mol{428.5}{504.2}{\molCO}
\mol{479.2}{489.2}{\molAcl}
\mol{544}{481.2}{\molUDPG}
\mol{741.8}{472.7}{\molNAD}
\mol{917}{502.8}{\molWater}
\mol{332.3}{675.5}{\molOO}
\mol{382.5}{665}{\molPi}
\mol{466}{663}{\molPyr}
\mol{549.5}{643}{\molNADH}
\mol{726}{676}{\molH}
\mol{776.5}{673.5}{\molCO}
\mol{829}{676}{\molH}
\mol{878}{643}{\molNADH}
\mol{1053.9}{643}{\molUDPGA}
\mol{1214}{643}{\molNAD}
\mol{703}{827}{\molNAD}
\mol{878}{846}{\molMal}
\mol{963.1}{835.3}{\molKeto}
\mol{1147}{859}{\molCO}
\mol{1199}{860.5}{\molH}
\mol{1250}{828}{\molNADH}
\mol{1424.5}{811.8}{\molCoA}
\mol{1134}{1019.2}{\molWater}
\mol{1185.3}{1013.3}{\molGlyox}
\mol{1236.6}{1014.4}{\molAcCoA}
\mol{1313.5}{1023.6}{\molHOOH}
\mol{1365}{1015.5}{\molNH}
\mol{1252}{1137.2}{\molGly}
\mol{1313.5}{1151.8}{\molOO}
\mol{1365}{1147.4}{\molWater}
% ---------- reactions
\node[rxn] (r00725) at (143.3,130) {R00725};
\node[rxn] (r00771) at (50.9,295.1) {R00771};
\node[rxn] (r00837) at (183.8,295.1) {R00837};
\node[rxn] (r00761) at (105,434) {R00761};
\node[rxn] (r02737) at (320,434) {R02737};
\node[rxn] (r00207) at (356,604) {R00207};
\node[rxn] (r00006) at (490,604) {R00006};
\node[rxn] (r00286) at (811,604) {R00286};
\node[rxn] (r00214) at (820,774) {R00214};
\node[rxn] (r07658) at (1191,774) {R07658};
\node[rxn] (r00472) at (1204,974) {R00472};
\node[rxn] (r00366) at (1332.8,1098.3) {R00366};
% ---------- edges
\draw[arr] (c00081) -- (r00725);
\draw[arr] (c00031.-132) -- (r00725.north east);
\draw[arr] (c00031.-80) .. controls (248,180) and (238,250) .. (r00837.north east);
\draw[arr] (r00725) -- (c00092);
\draw[arr] (r00725) -- (c00104);
\draw[arr] (c00092) -- (r00771);
\draw[arr] (c00092.south east) .. controls (115,264) and (140,278) .. (r00837.165);
\draw[arr] (r00837) -- (c00001a);
\draw[arr] (r00837) -- (c00689.151);
\draw[arr] (r00771) -- (c00085);
\draw[arr] (c00085) -- (r00761);
\draw[arr] (c00009a) -- (r00761);
\draw[arr] (c00689) -- (r02737);
\draw[arr] (c00015) -- (r02737);
\draw[arr] (r00761.-125) .. controls (75,465) and (45,485) .. (c00001b.north);
\draw[arr] (r00761) -- (c00227);
\draw[arr] (r00761) -- (c00279.north west);
\draw[arr] (r02737) -- (c00668);
\draw[arr] (r02737.east) .. controls (430,440) and (520,455) .. ($(c00029.north west)+(16,0)$);
\draw[arr] (c00227.-60) .. controls (140,580) and (240,600) .. (r00207.west);
\draw[arr] (c00011a) -- (r00207);
\draw[arr] (c00027a) -- (r00207);
\draw[arr] (c00011b) -- (r00006);
\draw[arr] (c00900) -- (r00006);
\draw[arr] (c00029) -- (r00286);
\draw[arr] (c00003a) -- (r00286);
\draw[arr] (c00001c.south) .. controls (932,570) and (880,592) .. (r00286.20);
\draw[arr] (r00207) -- (c00007a);
\draw[arr] (r00207) -- (c00009b);
\draw[arr] (r00207.-20) .. controls (410,625) and (445,645) .. (c00022.north west);
\draw[arr] (r00006) -- (c00022);
\draw[arr] (r00286) -- (c00004a.north east);
\draw[arr] (r00286.-120) .. controls (790,640) and (760,655) .. (c00080a.north);
\draw[arr] (r00286.east) .. controls (930,610) and (1030,620) .. ($(c00167.north west)+(14,0)$);
\draw[arr] (c00022.south east) .. controls (560,750) and (700,772) .. (r00214.west);
\draw[arr] (c00011c) -- (r00214);
\draw[arr] (c00080b) -- (r00214);
\draw[arr] (c00004b) -- (r00214);
\draw[arr] (c00167) -- (r07658);
\draw[arr] (c00003b) -- (r07658);
\draw[arr] (r00214) -- (c00003c);
\draw[arr] (r00214.-40) .. controls (865,805) and (888,825) .. (c00149.120);
\draw[arr] (r07658) -- (c16155);
\draw[arr] (r07658) -- (c00011d);
\draw[arr] (r07658) -- (c00080c);
\draw[arr] (r07658) -- (c00004c);
\draw[arr] (c00149.-70) .. controls (940,950) and (1080,968) .. (r00472.west);
\draw[arr] (c00010.south west) -- (r00472);
\draw[arr] (r00472) -- (c00001d);
\draw[arr] (r00472) -- (c00048);
\draw[arr] (r00472) -- (c00024);
\draw[arr] (c00048.south east) .. controls (1245,1075) and (1285,1092) .. (r00366.west);
\draw[arr] (c00027b) -- (r00366);
\draw[arr] (c00014) -- (r00366);
\draw[arr] (r00366) -- (c00037.70);
\draw[arr] (r00366) -- (c00007b);
\draw[arr] (r00366) -- (c00001e);
\end{tikzpicture}
\end{document}
